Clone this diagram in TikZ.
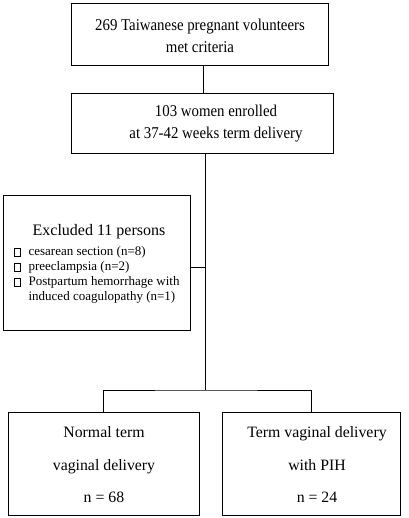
\documentclass[tikz,border=0pt]{standalone}
\usepackage{fontspec}
\setmainfont{Liberation Serif}
\newfontfamily\narrowfont[FakeStretch=0.9]{Liberation Serif}
\newcommand{\bul}{{\setlength{\fboxsep}{0pt}\setlength{\fboxrule}{0.7pt}\fbox{\rule{0pt}{7.5pt}\hspace{5pt}}}}
\begin{document}
\begin{tikzpicture}[x=1pt,y=-1pt,
  box/.style={draw=black,line width=0.9pt,rectangle,inner sep=0pt},
  lbl/.style={inner sep=0pt,align=center,font=\narrowfont\fontsize{16.5}{22}\selectfont},
  lowlbl/.style={inner sep=0pt,align=center,font=\fontsize{15.8}{32.5}\selectfont},
  conn/.style={draw=black,line width=0.9pt}]
\useasboundingbox (0,0) rectangle (408,518);
\fill[white] (0,0) rectangle (408,518);
% boxes
\node[box,minimum width=257pt,minimum height=62pt] (top) at (199.5,34) {};
\node[box,minimum width=262pt,minimum height=60pt] (enr) at (202,123) {};
\node[box,minimum width=187pt,minimum height=135pt] (exc) at (96.5,262.5) {};
\node[box,minimum width=191pt,minimum height=103pt] (nor) at (103.5,463.5) {};
\node[box,minimum width=178pt,minimum height=103pt] (pih) at (311,463.5) {};
% texts
\node[lbl] (t1) at (200,36) {269 Taiwanese pregnant volunteers\\met criteria};
\node[lbl] (t2) at (216,124) {103 women enrolled\\at 37-42 weeks term delivery};
\node[inner sep=0pt,font=\fontsize{16}{18}\selectfont] (t3) at (99,232) {Excluded 11 persons};
\node[inner sep=0pt,anchor=north west,font=\fontsize{13}{15}\selectfont] (t4) at (14,245)
  {\begin{tabular}{@{}l@{\hspace{8pt}}l@{}}
   \bul & cesarean section (n=8)\\
   \bul & preeclampsia (n=2)\\
   \bul & Postpartum hemorrhage with\\
        & induced coagulopathy (n=1)
   \end{tabular}};
\node[lowlbl] (t5) at (104,465) {Normal term\\vaginal delivery\\n = 68};
\node[lowlbl] (t6) at (317,465) {Term vaginal delivery\\with PIH\\n = 24};
% connectors
\coordinate (j) at (205,390);
\coordinate (k) at (205,267);
\draw[conn] ([xshift=3.5pt]top.south) -- ([xshift=3.5pt]top.south |- enr.north);
\draw[conn] (enr.south -| j) -- (j);
\draw[conn] (exc.east |- k) -- (k);
\draw[conn] (nor.north) |- (j) -| (pih.north);
\end{tikzpicture}
\end{document}
